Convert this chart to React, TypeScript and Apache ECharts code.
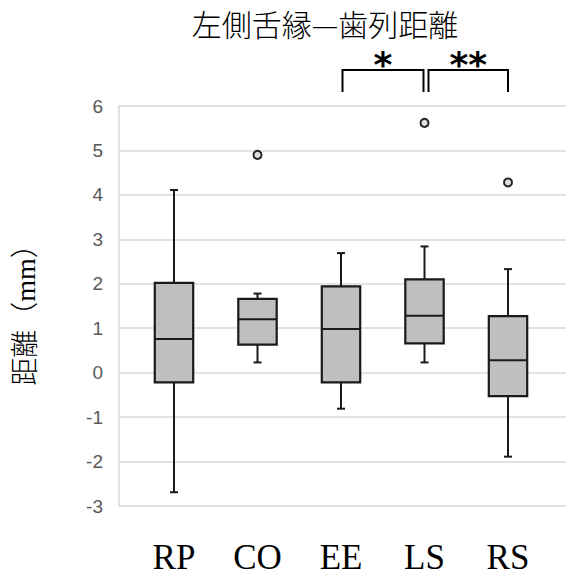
import React, { useEffect, useRef } from "react";
import * as echarts from "echarts";

const categories = ["RP", "CO", "EE", "LS", "RS"];
const whiskerLow = [-2.69, 0.23, -0.81, 0.23, -1.89];
const quartile1 = [-0.22, 0.63, -0.22, 0.66, -0.53];
const medians = [0.76, 1.2, 0.98, 1.28, 0.28];
const quartile3 = [2.02, 1.66, 1.94, 2.1, 1.27];
const whiskerHigh = [4.11, 1.78, 2.69, 2.84, 2.33];
const outlierCats = ["CO", "LS", "RS"];
const outlierVals = [4.9, 5.62, 4.28];
const yMin = -3;
const yMax = 6;
const yInterval = 1;
const sigFrom = ["EE", "LS"];
const sigTo = ["LS", "RS"];
const sigLabels = ["*", "**"];
const titleText = "左側舌縁—歯列距離";
const yAxisTitle = "距離（mm）";

export default function App() {
  const ref = useRef<HTMLDivElement>(null);
  useEffect(() => {
    if (!ref.current) return;
    const chart = echarts.init(ref.current, null, { renderer: "svg" });
    const gridTop = 106;
    const gridHeight = 400;
    const boxData = categories.map((c, i) => [
      i,
      whiskerLow[i],
      quartile1[i],
      medians[i],
      quartile3[i],
      whiskerHigh[i],
    ]);
    const outData = outlierCats.map((c, i) => [categories.indexOf(c), outlierVals[i]]);
    const stroke = "#1a1a1a";
    chart.setOption({
      animation: false,
      grid: [
        { left: 119, right: 0, top: gridTop, height: gridHeight },
        { left: 132.25, width: 417.5, top: gridTop, height: gridHeight },
      ],
      xAxis: [
        { gridIndex: 0, type: "value", show: false, min: 0, max: 1 },
        {
          gridIndex: 1,
          type: "category",
          data: categories,
          axisLine: { show: false },
          axisTick: { show: false },
          axisLabel: {
            margin: 34,
            fontSize: 35,
            color: "#000",
            fontFamily: "Liberation Serif, 'Times New Roman', serif",
          },
        },
      ],
      yAxis: [
        {
          gridIndex: 0,
          type: "value",
          min: yMin,
          max: yMax,
          interval: yInterval,
          axisLine: { show: true, lineStyle: { color: "#d9d9d9", width: 1.5 } },
          axisTick: { show: false },
          splitLine: { show: true, lineStyle: { color: "#d9d9d9", width: 1.5 } },
          axisLabel: {
            margin: 16,
            fontSize: 19,
            color: "#595959",
            fontFamily: "'Liberation Sans', Arial, sans-serif",
          },
        },
        {
          gridIndex: 1,
          type: "value",
          min: yMin,
          max: yMax,
          interval: yInterval,
          show: false,
          splitLine: { show: false },
        },
      ],
      series: [
        {
          type: "custom",
          xAxisIndex: 1,
          yAxisIndex: 1,
          data: boxData,
          encode: { x: 0, y: [1, 2, 3, 4, 5] },
          z: 3,
          renderItem: (params: any, api: any) => {
            const i = api.value(0);
            const pLow = api.coord([i, api.value(1)]);
            const pQ1 = api.coord([i, api.value(2)]);
            const pMed = api.coord([i, api.value(3)]);
            const pQ3 = api.coord([i, api.value(4)]);
            const pHigh = api.coord([i, api.value(5)]);
            const x = pMed[0];
            const bw = api.size([1, 0])[0] * 0.46;
            const cap = 8;
            const ls = { stroke, lineWidth: 2 };
            return {
              type: "group",
              children: [
                { type: "line", shape: { x1: x, y1: pHigh[1], x2: x, y2: pQ3[1] }, style: ls },
                { type: "line", shape: { x1: x, y1: pQ1[1], x2: x, y2: pLow[1] }, style: ls },
                { type: "line", shape: { x1: x - cap / 2, y1: pHigh[1], x2: x + cap / 2, y2: pHigh[1] }, style: ls },
                { type: "line", shape: { x1: x - cap / 2, y1: pLow[1], x2: x + cap / 2, y2: pLow[1] }, style: ls },
                {
                  type: "rect",
                  shape: { x: x - bw / 2, y: pQ3[1], width: bw, height: pQ1[1] - pQ3[1] },
                  style: { fill: "#bfbfbf", stroke, lineWidth: 2.2 },
                },
                { type: "line", shape: { x1: x - bw / 2, y1: pMed[1], x2: x + bw / 2, y2: pMed[1] }, style: ls },
              ],
            };
          },
        },
        {
          type: "scatter",
          xAxisIndex: 1,
          yAxisIndex: 1,
          data: outData,
          symbol: "circle",
          symbolSize: 8,
          z: 4,
          itemStyle: { color: "#e0e0e0", borderColor: "#262626", borderWidth: 2, opacity: 1 },
        },
      ],
    });

    const graphics: any[] = [
      {
        type: "text",
        x: 325,
        y: 23,
        style: {
          text: titleText,
          fontSize: 30,
          fill: "#000",
          fontFamily: "'Noto Sans CJK JP', sans-serif",
          fontWeight: 300,
          align: "center",
          verticalAlign: "middle",
        },
      },
      {
        type: "text",
        x: 25,
        y: 308,
        rotation: Math.PI / 2,
        style: {
          text: yAxisTitle,
          fontSize: 28,
          fill: "#000",
          fontFamily: "'Liberation Serif', 'Noto Sans CJK JP', serif",
          fontWeight: 300,
          align: "center",
          verticalAlign: "middle",
        },
      },
    ];
    const bracketTop = 70;
    const bracketBottom = 92;
    sigLabels.forEach((lab, k) => {
      const x1 = chart.convertToPixel({ xAxisIndex: 1 }, categories.indexOf(sigFrom[k])) as number;
      const x2 = chart.convertToPixel({ xAxisIndex: 1 }, categories.indexOf(sigTo[k])) as number;
      const a = k === 0 ? x1 + 1.5 : x1 + 4;
      const b = k === 0 ? x2 - 1 : x2;
      graphics.push({
        type: "polyline",
        shape: { points: [[a, bracketBottom], [a, bracketTop], [b, bracketTop], [b, bracketBottom]] },
        style: { stroke: "#000", lineWidth: 2, fill: "none" },
      });
      graphics.push({
        type: "text",
        x: (a + b) / 2,
        y: 64,
        style: {
          text: lab,
          fontSize: 36,
          fontWeight: "bold",
          fill: "#000",
          fontFamily: "'DejaVu Sans', sans-serif",
          align: "center",
          verticalAlign: "middle",
        },
      });
    });
    chart.setOption({ graphic: graphics });
    return () => chart.dispose();
  }, []);
  return (
    <div
      ref={ref}
      style={{ position: "fixed", left: 0, top: 0, width: 566, height: 579, background: "#fff" }}
    />
  );
}
